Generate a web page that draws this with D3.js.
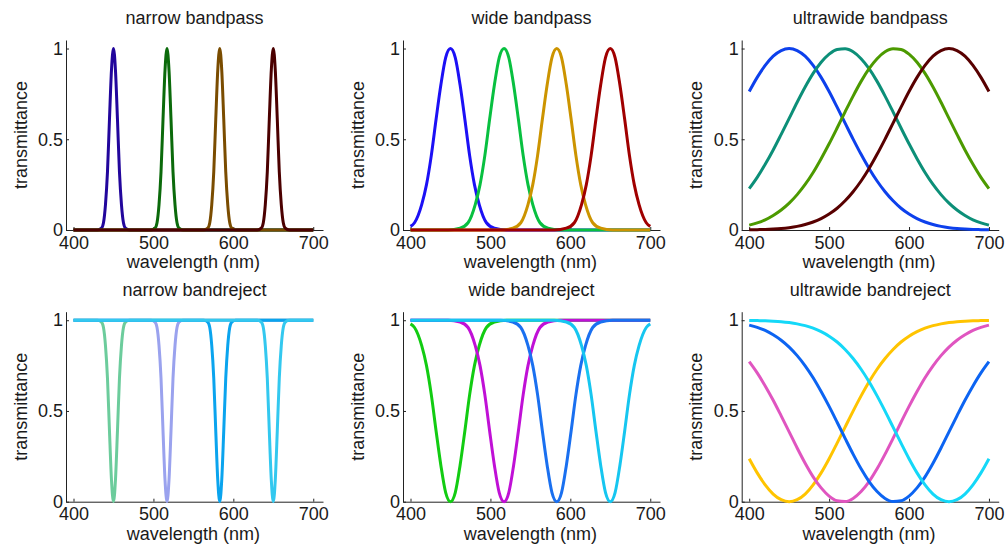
<!DOCTYPE html>
<html>
<head>
<meta charset="utf-8">
<script src="https://cdn.jsdelivr.net/npm/d3@7"></script>
<style>
  body { margin: 0; background: #fff; }
  text { font-family: 'Liberation Sans', Arial, sans-serif; fill: #1a1a1a; }
</style>
</head>
<body>
<div id="chart"></div>
<script>

// panel titles, row by row
const titles = ['narrow bandpass', 'wide bandpass', 'ultrawide bandpass',
                'narrow bandreject', 'wide bandreject', 'ultrawide bandreject'];

const xTicks = [400, 500, 600, 700];
const yTicks = [0, 0.5, 1];

// narrow filters (peaks near 450, 517, 583, 650 nm)
const narrowWl = [
    [400, 430, 435, 437.5, 440, 442.5, 445, 447.5, 450, 452.5, 455, 457.5, 460, 462.5, 465, 470, 700],
    [400, 497, 502, 504.5, 507, 509.5, 512, 514.5, 517, 519.5, 522, 524.5, 527, 529.5, 532, 537, 700],
    [400, 563, 568, 570.5, 573, 575.5, 578, 580.5, 583, 585.5, 588, 590.5, 593, 595.5, 598, 603, 700],
    [400, 630, 635, 637.5, 640, 642.5, 645, 647.5, 650, 652.5, 655, 657.5, 660, 662.5, 665, 670, 700]
];
const narrowPass = [
    [0, 0, 0.01, 0.04, 0.14, 0.32, 0.61, 0.88, 1, 0.88, 0.61, 0.32, 0.14, 0.04, 0.01, 0, 0],
    [0, 0, 0.01, 0.04, 0.14, 0.32, 0.61, 0.88, 1, 0.88, 0.61, 0.32, 0.14, 0.04, 0.01, 0, 0],
    [0, 0, 0.01, 0.04, 0.14, 0.32, 0.61, 0.88, 1, 0.88, 0.61, 0.32, 0.14, 0.04, 0.01, 0, 0],
    [0, 0, 0.01, 0.04, 0.14, 0.32, 0.61, 0.88, 1, 0.88, 0.61, 0.32, 0.14, 0.04, 0.01, 0, 0]
];
const narrowReject = [
    [1, 1, 0.99, 0.96, 0.86, 0.68, 0.39, 0.12, 0, 0.12, 0.39, 0.68, 0.86, 0.96, 0.99, 1, 1],
    [1, 1, 0.99, 0.96, 0.86, 0.68, 0.39, 0.12, 0, 0.12, 0.39, 0.68, 0.86, 0.96, 0.99, 1, 1],
    [1, 1, 0.99, 0.96, 0.86, 0.68, 0.39, 0.12, 0, 0.12, 0.39, 0.68, 0.86, 0.96, 0.99, 1, 1],
    [1, 1, 0.99, 0.96, 0.86, 0.68, 0.39, 0.12, 0, 0.12, 0.39, 0.68, 0.86, 0.96, 0.99, 1, 1]
];

// wide filters
const wideWl = [
    [400, 405, 414, 420, 426, 432, 438, 444, 450, 456, 462, 468, 474, 480, 486, 495, 505, 520, 700],
    [400, 447, 462, 472, 481, 487, 493, 499, 505, 511, 517, 523, 529, 535, 541, 547, 553, 562, 572, 587, 700],
    [400, 513, 528, 538, 547, 553, 559, 565, 571, 577, 583, 589, 595, 601, 607, 613, 619, 628, 638, 653, 700],
    [400, 580, 595, 605, 614, 620, 626, 632, 638, 644, 650, 656, 662, 668, 674, 680, 686, 695, 700]
];
const widePass = [
    [0.02, 0.04, 0.14, 0.25, 0.41, 0.61, 0.80, 0.95, 1, 0.95, 0.80, 0.61, 0.41, 0.25, 0.14, 0.04, 0.01, 0, 0],
    [0, 0, 0.01, 0.04, 0.14, 0.25, 0.41, 0.61, 0.80, 0.95, 1, 0.95, 0.80, 0.61, 0.41, 0.25, 0.14, 0.04, 0.01, 0, 0],
    [0, 0, 0.01, 0.04, 0.14, 0.25, 0.41, 0.61, 0.80, 0.95, 1, 0.95, 0.80, 0.61, 0.41, 0.25, 0.14, 0.04, 0.01, 0, 0],
    [0, 0, 0.01, 0.04, 0.14, 0.25, 0.41, 0.61, 0.80, 0.95, 1, 0.95, 0.80, 0.61, 0.41, 0.25, 0.14, 0.04, 0.02]
];
const wideReject = [
    [0.98, 0.96, 0.86, 0.75, 0.59, 0.39, 0.20, 0.05, 0, 0.05, 0.20, 0.39, 0.59, 0.75, 0.86, 0.96, 0.99, 1, 1],
    [1, 1, 0.99, 0.96, 0.86, 0.75, 0.59, 0.39, 0.20, 0.05, 0, 0.05, 0.20, 0.39, 0.59, 0.75, 0.86, 0.96, 0.99, 1, 1],
    [1, 1, 0.99, 0.96, 0.86, 0.75, 0.59, 0.39, 0.20, 0.05, 0, 0.05, 0.20, 0.39, 0.59, 0.75, 0.86, 0.96, 0.99, 1, 1],
    [1, 1, 0.99, 0.96, 0.86, 0.75, 0.59, 0.39, 0.20, 0.05, 0, 0.05, 0.20, 0.39, 0.59, 0.75, 0.86, 0.96, 0.98]
];

// ultrawide filters, one shared grid every 10 nm
const ultraWl = [400, 410, 420, 430, 440, 450, 460, 470, 480, 490, 500, 510, 520, 530, 540, 550,
                 560, 570, 580, 590, 600, 610, 620, 630, 640, 650, 660, 670, 680, 690, 700];
const ultraPass = [
    [0.763, 0.841, 0.907, 0.958, 0.989, 1, 0.989, 0.958, 0.907, 0.841, 0.763, 0.677, 0.589, 0.501, 0.417, 0.339,
     0.270, 0.211, 0.161, 0.120, 0.088, 0.063, 0.044, 0.030, 0.020, 0.013, 0.008, 0.005, 0.003, 0.002, 0.001],
    [0.228, 0.290, 0.362, 0.441, 0.527, 0.615, 0.704, 0.788, 0.863, 0.924, 0.969, 0.995, 0.999, 0.982, 0.944, 0.889,
     0.819, 0.738, 0.651, 0.562, 0.475, 0.393, 0.317, 0.251, 0.195, 0.148, 0.110, 0.080, 0.056, 0.039, 0.027],
    [0.027, 0.039, 0.056, 0.080, 0.110, 0.148, 0.195, 0.251, 0.317, 0.393, 0.475, 0.562, 0.651, 0.738, 0.819, 0.889,
     0.944, 0.982, 0.999, 0.995, 0.969, 0.924, 0.863, 0.788, 0.704, 0.615, 0.527, 0.441, 0.362, 0.290, 0.228],
    [0.001, 0.002, 0.003, 0.005, 0.008, 0.013, 0.020, 0.030, 0.044, 0.063, 0.088, 0.120, 0.161, 0.211, 0.270, 0.339,
     0.417, 0.501, 0.589, 0.677, 0.763, 0.841, 0.907, 0.958, 0.989, 1, 0.989, 0.958, 0.907, 0.841, 0.763]
];
const ultraReject = [
    [0.237, 0.159, 0.093, 0.042, 0.011, 0, 0.011, 0.042, 0.093, 0.159, 0.237, 0.323, 0.411, 0.499, 0.583, 0.661,
     0.730, 0.789, 0.839, 0.880, 0.912, 0.937, 0.956, 0.970, 0.980, 0.987, 0.992, 0.995, 0.997, 0.998, 0.999],
    [0.772, 0.710, 0.638, 0.559, 0.473, 0.385, 0.296, 0.212, 0.137, 0.076, 0.031, 0.005, 0.001, 0.018, 0.056, 0.111,
     0.181, 0.262, 0.349, 0.438, 0.525, 0.607, 0.683, 0.749, 0.805, 0.852, 0.890, 0.920, 0.944, 0.961, 0.973],
    [0.973, 0.961, 0.944, 0.920, 0.890, 0.852, 0.805, 0.749, 0.683, 0.607, 0.525, 0.438, 0.349, 0.262, 0.181, 0.111,
     0.056, 0.018, 0.001, 0.005, 0.031, 0.076, 0.137, 0.212, 0.296, 0.385, 0.473, 0.559, 0.638, 0.710, 0.772],
    [0.999, 0.998, 0.997, 0.995, 0.992, 0.987, 0.980, 0.970, 0.956, 0.937, 0.912, 0.880, 0.839, 0.789, 0.730, 0.661,
     0.583, 0.499, 0.411, 0.323, 0.237, 0.159, 0.093, 0.042, 0.011, 0, 0.011, 0.042, 0.093, 0.159, 0.237]
];

// line colours for each panel
const colors = [
    ['#22069c', '#0b6a0b', '#7a4c00', '#4b0000'],
    ['#1c10f5', '#08c040', '#cc9400', '#a00000'],
    ['#0d40ec', '#0c8f78', '#4c9a00', '#580000'],
    ['#6ccc9c', '#9aa2ee', '#0aa4ee', '#33c8ef'],
    ['#12cc12', '#c010d6', '#1a70f0', '#16c6f0'],
    ['#ffc400', '#e055c0', '#0c64f2', '#14d8f8']
];

const ultraGrid = [ultraWl, ultraWl, ultraWl, ultraWl];

const panels = [
    {wl: narrowWl, vals: narrowPass},
    {wl: wideWl, vals: widePass},
    {wl: ultraGrid, vals: ultraPass},
    {wl: narrowWl, vals: narrowReject},
    {wl: wideWl, vals: wideReject},
    {wl: ultraGrid, vals: ultraReject}
];

// layout of the 3x2 grid (pixel positions of each axes box)
const colLeft = [66, 403, 741.7];
const rowBottom = [230, 501.7];
const boxWidth = 257;
const boxHeight = 190;

const svg = d3.select('#chart')
    .append('svg')
    .attr('width', 1005)
    .attr('height', 547);

panels.forEach((p, i) => {
    const left = colLeft[i % 3];
    const bottom = rowBottom[Math.floor(i / 3)];

    const x = d3.scaleLinear()
        .domain([390.6, 712.2])
        .range([0, boxWidth]);
    const y = d3.scaleLinear()
        .domain([0, 1.047])
        .range([0, -boxHeight]);

    const g = svg.append('g')
        .attr('transform', `translate(${left}, ${bottom})`);

    // x axis, ticks pointing inwards
    g.append('g')
        .call(d3.axisBottom(x).tickValues(xTicks).tickSize(-3).tickSizeOuter(0).tickPadding(6))
        .call(a => a.selectAll('text').style('font-size', '18px').attr('fill', '#1a1a1a'))
        .call(a => a.selectAll('line, path').attr('stroke', '#222'))
        .attr('font-family', null);

    // y axis
    g.append('g')
        .call(d3.axisLeft(y).tickValues(yTicks).tickFormat(d => d).tickSize(-3).tickSizeOuter(0).tickPadding(3))
        .call(a => a.selectAll('text').style('font-size', '18px').attr('fill', '#1a1a1a'))
        .call(a => a.selectAll('line, path').attr('stroke', '#222'))
        .attr('font-family', null);

    const line = d3.line()
        .x(d => x(d[0]))
        .y(d => y(d[1]))
        .curve(d3.curveMonotoneX);

    p.vals.forEach((vals, k) => {
        const pts = vals.map((v, j) => [p.wl[k][j], v]);
        g.append('path')
            .attr('d', line(pts))
            .attr('fill', 'none')
            .attr('stroke', colors[i][k])
            .attr('stroke-width', 3)
            .attr('stroke-linejoin', 'round');
    });

    // title
    g.append('text')
        .attr('x', boxWidth / 2)
        .attr('y', -206)
        .attr('text-anchor', 'middle')
        .style('font-size', '18px')
        .text(titles[i]);

    // axis labels
    g.append('text')
        .attr('x', x(550))
        .attr('y', 38)
        .attr('text-anchor', 'middle')
        .style('font-size', '18px')
        .text('wavelength (nm)');

    g.append('text')
        .attr('transform', `translate(-39.5, ${-boxHeight / 2}) rotate(-90)`)
        .attr('text-anchor', 'middle')
        .style('font-size', '18px')
        .text('transmittance');
});

</script>
</body>
</html>
